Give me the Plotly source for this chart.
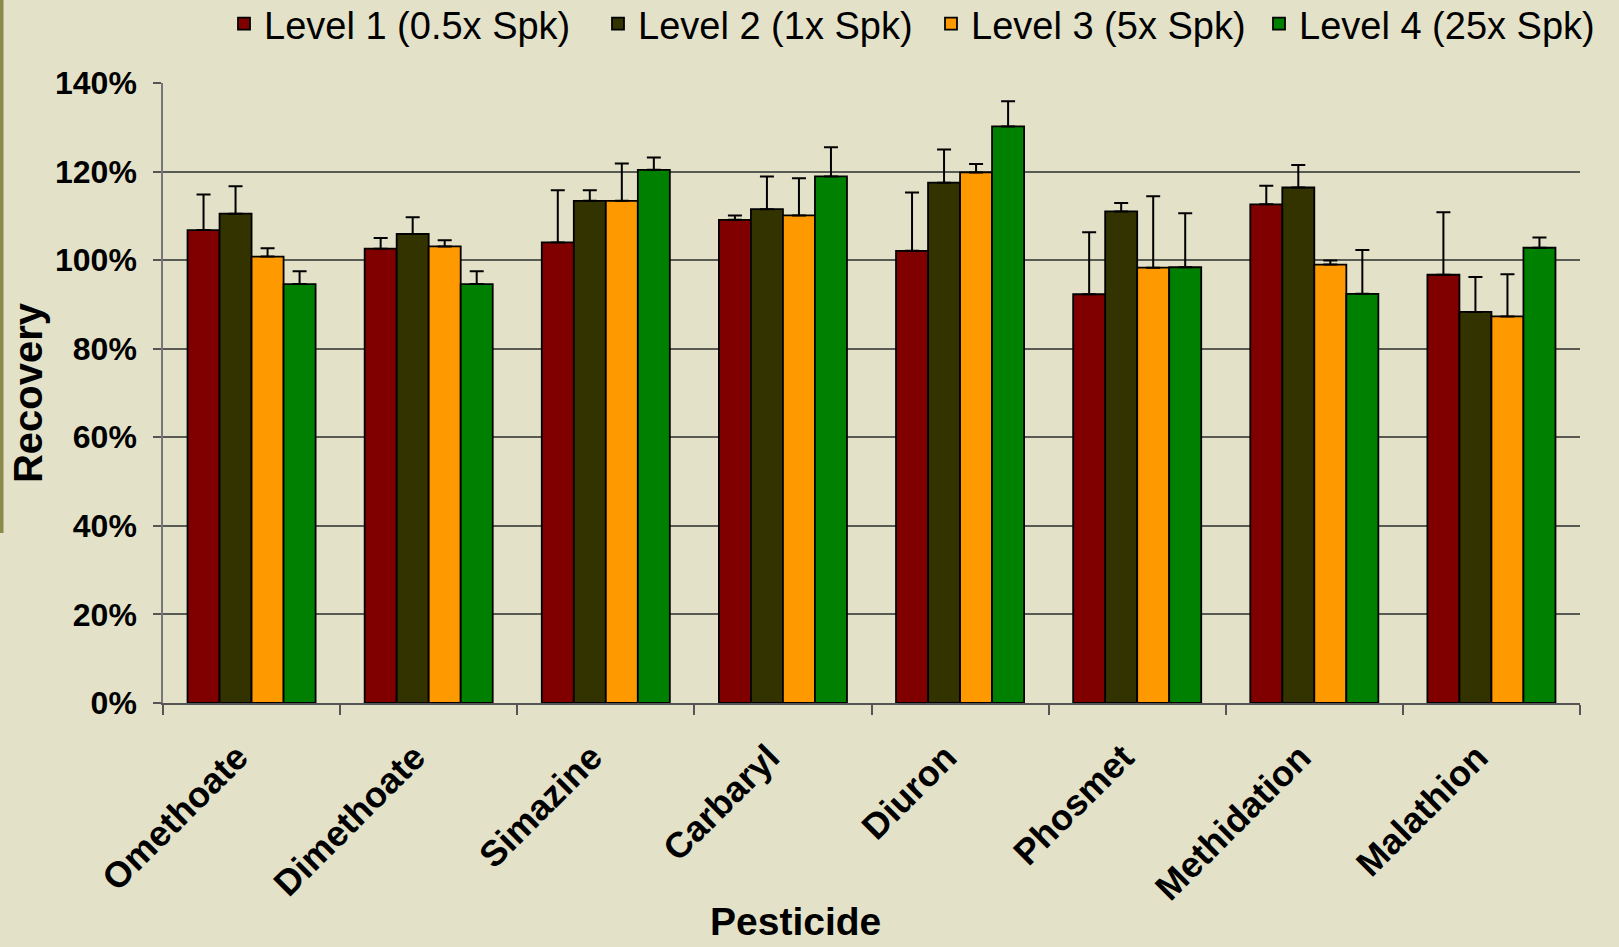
import plotly.graph_objects as go

categories = ["Omethoate", "Dimethoate", "Simazine", "Carbaryl", "Diuron",
              "Phosmet", "Methidation", "Malathion"]

level1 = [106.8, 102.6, 104.0, 109.1, 102.1, 92.3, 112.6, 96.7]
level1_err = [8.0, 2.4, 11.8, 1.0, 13.2, 14.0, 4.2, 14.1]
level2 = [110.5, 105.9, 113.4, 111.5, 117.5, 111.0, 116.4, 88.3]
level2_err = [6.2, 3.8, 2.4, 7.4, 7.5, 1.9, 5.1, 7.9]
level3 = [100.8, 103.1, 113.4, 110.1, 119.8, 98.3, 99.0, 87.3]
level3_err = [1.9, 1.4, 8.4, 8.4, 1.9, 16.1, 0.9, 9.5]
level4 = [94.6, 94.6, 120.4, 118.9, 130.2, 98.4, 92.4, 102.8]
level4_err = [2.9, 2.9, 2.8, 6.6, 5.7, 12.2, 9.9, 2.3]

series_names = ["Level 1 (0.5x Spk)", "Level 2 (1x Spk)",
                "Level 3 (5x Spk)", "Level 4 (25x Spk)"]
series_values = [level1, level2, level3, level4]
series_errors = [level1_err, level2_err, level3_err, level4_err]
series_colors = ["#800000", "#333300", "#FF9900", "#008000"]

y_ticks = [0, 20, 40, 60, 80, 100, 120, 140]
y_tick_labels = ["0%", "20%", "40%", "60%", "80%", "100%", "120%", "140%"]

BG = "#E3E2C9"
FONT = "Liberation Sans, Arial, sans-serif"

W, H = 1619, 947
ML, MR, MT, MB = 163, 39, 83, 244
pw = W - ML - MR
ph = H - MT - MB

legend_ids = ["legend", "legend2", "legend3", "legend4"]
legend_left_px = [224, 598, 931, 1259]

fig = go.Figure()
for name, vals, errs, col, lid in zip(series_names, series_values, series_errors,
                                      series_colors, legend_ids):
    fig.add_trace(go.Bar(
        x=categories, y=vals, name=name, legend=lid,
        marker=dict(color=col, line=dict(color="#000000", width=1.8)),
        error_y=dict(type="data", symmetric=False, array=errs,
                     arrayminus=[0] * len(errs),
                     color="#000000", thickness=2, width=7),
    ))

legend_layouts = {}
for lid, lx in zip(legend_ids, legend_left_px):
    legend_layouts[lid] = dict(
        orientation="h", xref="container", yref="container",
        x=lx / W, xanchor="left", y=1 - 24 / H, yanchor="middle",
        font=dict(size=38, family=FONT), bgcolor="rgba(0,0,0,0)",
        itemclick=False, itemdoubleclick=False,
    )

fig.update_layout(
    width=W, height=H,
    margin=dict(l=ML, r=MR, t=MT, b=MB, pad=0, autoexpand=False),
    paper_bgcolor=BG, plot_bgcolor=BG,
    font=dict(family=FONT, color="#000000"),
    barmode="group", bargap=0.277, bargroupgap=0,
    showlegend=True,
    xaxis=dict(
        automargin=False,
        showline=True, linecolor="#555555", linewidth=1.5,
        ticks="outside", tickson="boundaries", ticklen=10,
        tickcolor="#555555", tickwidth=1.5,
        tickangle=-45, ticklabelstandoff=17, ticklabelshift=-14,
        tickfont=dict(size=36, family=FONT, weight="bold"),
        showgrid=False, zeroline=False,
    ),
    yaxis=dict(
        automargin=False,
        range=[0, 140], tickmode="array", tickvals=y_ticks, ticktext=y_tick_labels,
        showgrid=True, gridcolor="#5a5a55", gridwidth=1.6,
        zeroline=False,
        showline=True, linecolor="#777777", linewidth=1.5,
        ticks="outside", ticklen=8, tickcolor="#555555", tickwidth=1.5,
        ticklabelstandoff=10,
        tickfont=dict(size=32, family=FONT, weight="bold"),
        title=dict(text="Recovery", standoff=0,
                   font=dict(size=40, family=FONT, weight="bold")),
    ),
    annotations=[dict(
        text="<b>Pesticide</b>", xref="paper", yref="paper",
        x=(795 - ML) / pw, y=(H - MB - 921) / ph,
        xanchor="center", yanchor="middle",
        showarrow=False, font=dict(size=39, family=FONT),
    )],
    shapes=[dict(
        type="rect", xref="paper", yref="paper",
        x0=(0 - ML) / pw, x1=(3.5 - ML) / pw,
        y0=(H - MB - 533) / ph, y1=(H - MB) / ph + 0.2,
        fillcolor="#8A8A4A", line=dict(width=0), layer="below",
    )],
    **legend_layouts,
)

fig.write_html("out.html",
               config={"displayModeBar": False},
               post_script="document.body.style.margin='0';"
                           "document.body.style.background='" + BG + "';")
